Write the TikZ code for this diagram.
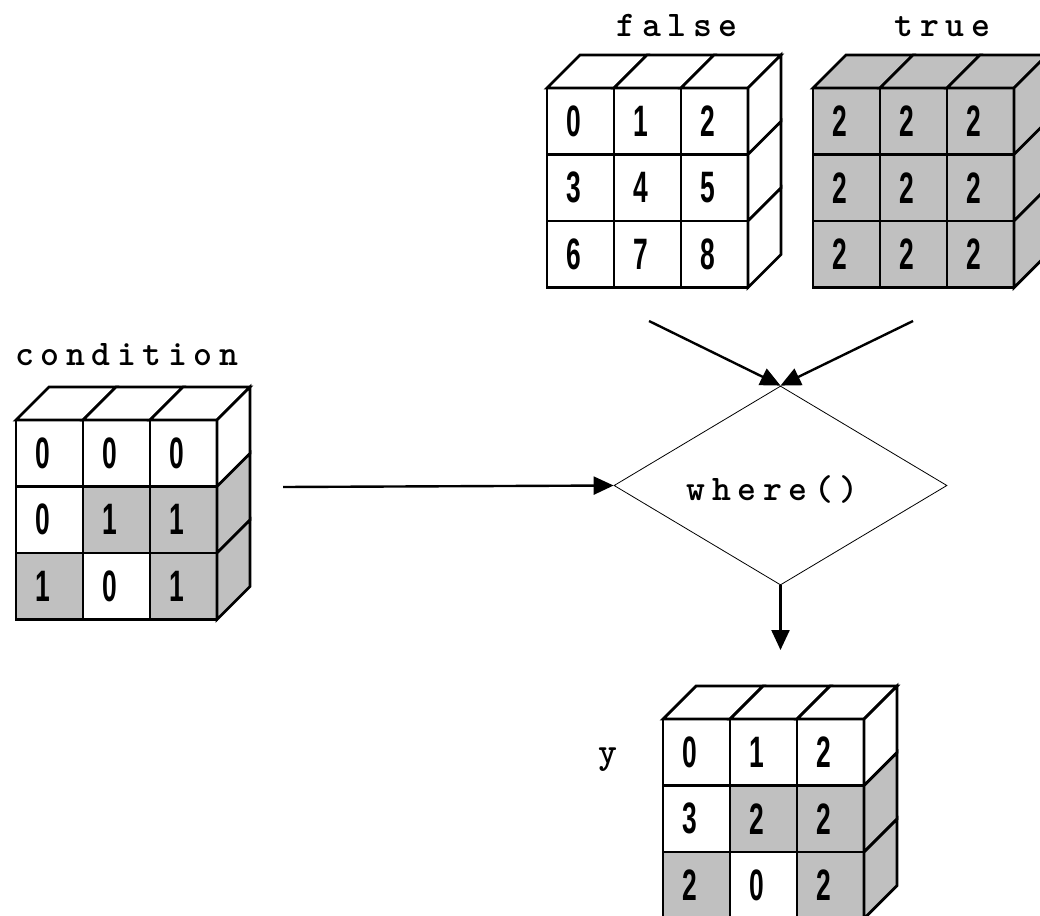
\documentclass[tikz,border=0pt]{standalone}
\usepackage{fontspec}
\usepackage{graphicx}
\usetikzlibrary{arrows.meta,shapes.geometric}

\newfontfamily\digitfont{Liberation Sans}
\definecolor{cellgray}{HTML}{C0C0C0}

% letter spacing for the captions
\newcommand\lsp{\kern6.6pt}

\tikzset{
  edge/.style={line width=2.8pt, line join=miter},
  flow/.style={line width=2.4pt, -{Triangle[length=20pt,width=18pt]}},
  digit/.style={font=\digitfont\bfseries\fontsize{44}{44}\selectfont, inner sep=0pt},
  caption/.style={font=\ttfamily\bfseries\fontsize{36}{36}\selectfont, inner sep=0pt, anchor=base},
  gate/.style={diamond, draw, line width=0.8pt, minimum width=333pt, minimum height=199pt, inner sep=0pt}
}

% 3x3 block drawn as a cube: #1 name, #2/#3 front top-left corner,
% #4 cells row by row as colour/digit
\newcommand\drawcube[4]{%
  \begin{scope}[shift={(#2,#3)}]
    \foreach \col/\d [count=\i from 0] in {#4} {
      \pgfmathtruncatemacro\r{floor(\i/3)}
      \pgfmathtruncatemacro\c{\i-3*\r}
      \filldraw[edge, fill=\col] (\c*67,\r*66.5) rectangle ++(67,66.5);
      \ifnum\r=0
        \filldraw[edge, fill=\col] (\c*67,0) -- ++(33,-33) -- ++(67,0) -- ++(-33,33) -- cycle;
      \fi
      \ifnum\c=2
        \filldraw[edge, fill=\col] (201,\r*66.5) -- ++(33,-33) -- ++(0,66.5) -- ++(-33,33) -- cycle;
      \fi
      \node[digit] (#1-\i) at (\c*67+26.5,\r*66.5+33.25) {\scalebox{0.6}[1]{\d}};
    }
  \end{scope}
}

\begin{document}
\begin{tikzpicture}[x=1pt,y=-1pt]
  \clip (0,0) rectangle (1040,915);

  % input and output arrays
  \drawcube{cond}{16}{420}{white/0,white/0,white/0,white/0,cellgray/1,cellgray/1,cellgray/1,white/0,cellgray/1}
  \drawcube{fls}{547}{88}{white/0,white/1,white/2,white/3,white/4,white/5,white/6,white/7,white/8}
  \drawcube{tru}{813}{88}{cellgray/2,cellgray/2,cellgray/2,cellgray/2,cellgray/2,cellgray/2,cellgray/2,cellgray/2,cellgray/2}
  \drawcube{res}{663}{719}{white/0,white/1,white/2,white/3,cellgray/2,cellgray/2,cellgray/2,white/0,cellgray/2}

  % captions
  \node[caption] (condlabel) at (126.5,365) {c\lsp o\lsp n\lsp d\lsp i\lsp t\lsp i\lsp o\lsp n};
  \node[caption] (falselabel) at (677,37) {f\lsp a\lsp l\lsp s\lsp e};
  \node[caption] (truelabel) at (942.5,37) {t\lsp r\lsp u\lsp e};
  \node[caption] (ylabel) at (608,763) {y};

  % the selection step
  \node[gate] (gate) at (780.5,485.5) {};
  \node[caption] (gatelabel) at (772.5,500) {w\lsp h\lsp e\lsp r\lsp e\lsp (\lsp )};

  % connectors
  \coordinate (condout) at (283,487);
  \coordinate (falseout) at (649,321);
  \coordinate (trueout) at (913,321);
  \coordinate (resin) at (780.5,650);
  \draw[flow] (condout) -- (gate.west);
  \draw[flow] (falseout) -- (gate.north);
  \draw[flow] (trueout) -- (gate.north);
  \draw[flow] (gate.south) -- (resin);
\end{tikzpicture}
\end{document}
